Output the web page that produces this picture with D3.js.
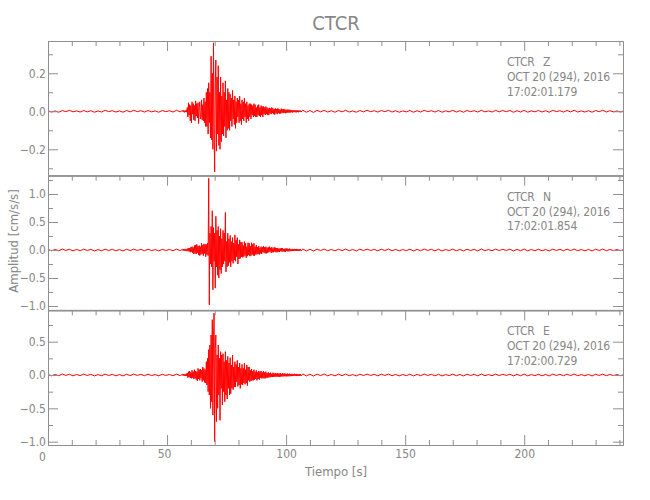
<!DOCTYPE html>
<html><head><meta charset="utf-8">
<script src="https://cdn.jsdelivr.net/npm/d3@7"></script>
<style>
body{margin:0;background:#fff;}
text{font-family:"Liberation Sans Narrow","DejaVu Sans Condensed",sans-serif;fill:#868686;}
</style></head><body>
<svg id="c" width="650" height="500"></svg>
<script>
// ---------- data ----------
const station = "CTCR";
const components = ["Z", "N", "E"];
const dateLabel = "OCT 20 (294), 2016";
const startTimes = ["17:02:01.179", "17:02:01.854", "17:02:00.729"];
const timeEnd = 241.5;                 // seconds shown
const xMajorTicks = [0, 50, 100, 150, 200];
const xMinorTicks = [10,20,30,40,60,70,80,90,110,120,130,140,160,170,180,190,210,220,230,240];

const yDomainZ = [-0.339, 0.370], yMajorZ = [-0.2, 0, 0.2], yMinorZ = [-0.3, -0.1, 0.1, 0.3];
const yDomainN = [-1.077, 1.327], yMajorN = [-1, -0.5, 0, 0.5, 1], yMinorN = [-0.75, -0.25, 0.25, 0.75, 1.25];
const yDomainE = [-1.05, 0.97], yMajorE = [-1, -0.5, 0, 0.5], yMinorE = [-0.75, -0.25, 0.25, 0.75];

// trace segments: pre-event (t0=0, dt=1.5 s), event (t0=56.5, dt=0.25 s), post-event (t0=107, dt=1.5 s)
const preStart = 0, preStep = 1.5, eventStart = 56.5, eventStep = 0.25, postStart = 107, postStep = 1.5;

const zPre = [0.003,-0.004,0.002,-0.005,0.004,-0.002,0.005,-0.003,0.002,-0.004,
 0.004,-0.003,0.003,-0.005,0.002,-0.004,0.005,-0.002,0.003,-0.004,
 0.002,-0.005,0.004,-0.003,0.005,-0.002,0.003,-0.004,0.004,-0.003,
 0.002,-0.005,0.004,-0.002,0.003,-0.004,0.005,-0.003];
const zEvent = [
 0.004,-0.003,0.005,-0.006,0.003,-0.004,0.006,-0.005,0.02,-0.03,0.045,-0.02,0.035,-0.05,0.03,-0.06,0.05,-0.015,0.04,-0.045,
 0.03,-0.05,0.055,-0.025,0.04,-0.035,0.045,-0.065,0.02,0.05,-0.04,-0.03,0.06,-0.045,0.035,-0.05,0.07,-0.06,0.05,-0.08,
 0.1,-0.08,0.12,-0.12,0.15,-0.06,0.1,-0.14,0.29,-0.15,0.2,-0.2,0.36,-0.1,-0.32,0.15,0.27,-0.21,0.18,-0.12,
 0.24,-0.18,0.1,-0.2,0.18,-0.16,0.08,-0.12,0.15,-0.13,0.1,-0.08,0.16,-0.14,0.06,-0.1,0.12,-0.09,0.1,-0.1,
 0.09,-0.05,0.07,-0.08,0.11,-0.04,0.06,-0.07,0.08,-0.09,0.05,-0.06,0.07,-0.03,0.06,-0.06,0.08,-0.05,0.04,-0.07,
 0.06,-0.04,0.05,-0.05,0.07,-0.03,0.04,-0.06,0.05,-0.04,0.03,-0.05,0.04,-0.03,0.04,-0.04,0.035,-0.02,0.03,-0.03,
 0.04,-0.025,0.035,-0.03,0.02,-0.03,0.03,-0.02,0.035,-0.025,0.02,-0.03,0.03,-0.02,0.025,-0.03,0.025,-0.015,0.02,-0.02,
 0.025,-0.015,0.02,-0.02,0.015,-0.02,0.018,-0.012,0.015,-0.015,0.02,-0.01,0.015,-0.015,0.012,-0.018,0.015,-0.01,0.012,-0.015,
 0.015,-0.01,0.012,-0.012,0.008,-0.012,0.014,-0.008,0.01,-0.01,0.012,-0.008,0.01,-0.01,0.008,-0.009,0.009,-0.006,0.008,-0.008,
 0.008,-0.006,0.007,-0.005,0.006,-0.007,0.005,-0.004,0.006,-0.005,0.004,-0.006,0.005,-0.004,0.005,-0.005,0.004,-0.003,0.004,-0.004];
const zPost = [0.006,-0.005,0.004,-0.006,0.005,-0.003,0.005,-0.004,0.003,-0.005,
 0.004,-0.003,0.005,-0.004,0.002,-0.005,0.004,-0.003,0.005,-0.002,
 0.003,-0.004,0.004,-0.002,0.005,-0.004,0.003,-0.005,0.002,-0.003,
 0.004,-0.005,0.003,-0.004,0.005,-0.002,0.003,-0.004,0.004,-0.005,
 0.002,-0.003,0.005,-0.004,0.003,-0.005,0.004,-0.002,0.003,-0.004,
 0.005,-0.003,0.002,-0.004,0.005,-0.003,0.004,-0.002,0.004,-0.005,
 0.003,-0.004,0.005,-0.005,0.002,-0.003,0.004,-0.004,0.003,-0.005,
 0.005,-0.002,0.003,-0.004,0.004,-0.003,0.005,-0.004,0.002,-0.004,
 0.003,-0.005,0.004,-0.002,0.005,-0.004,0.003,-0.003,0.002,-0.004,
 0.004];

const nPre = [0.01,-0.014,0.008,-0.012,0.016,-0.007,0.012,-0.015,0.009,-0.011,
 0.014,-0.008,0.011,-0.016,0.007,-0.013,0.015,-0.009,0.012,-0.014,
 0.008,-0.016,0.013,-0.01,0.015,-0.007,0.011,-0.013,0.014,-0.009,
 0.007,-0.015,0.012,-0.008,0.01,-0.014,0.016,-0.011];
const nEvent = [
 0.012,-0.01,0.015,-0.012,0.02,-0.015,0.01,-0.02,0.025,-0.02,0.03,-0.025,0.035,-0.04,0.05,-0.03,0.06,-0.05,0.045,-0.07,
 0.08,-0.06,0.09,-0.07,0.1,-0.05,0.07,-0.09,0.08,-0.1,0.06,-0.08,0.12,-0.07,0.09,-0.1,0.11,-0.06,0.1,-0.12,
 0.1,-0.08,0.12,-0.1,1.28,-0.98,0.3,-0.25,0.42,-0.3,0.7,-0.71,0.4,-0.2,0.3,-0.68,0.6,-0.3,0.35,-0.45,
 0.42,-0.5,0.25,-0.35,0.38,-0.42,0.2,-0.3,0.35,-0.25,0.3,-0.2,0.67,-0.39,0.15,-0.3,0.3,-0.28,0.2,-0.22,
 0.26,-0.3,0.15,-0.2,0.22,-0.24,0.12,-0.18,0.27,-0.2,0.18,-0.12,0.22,-0.25,0.1,-0.16,0.18,-0.15,0.14,-0.12,
 0.14,-0.13,0.08,-0.12,0.15,-0.1,0.12,-0.14,0.06,-0.11,0.13,-0.09,0.12,-0.11,0.07,-0.1,0.13,-0.08,0.1,-0.1,
 0.12,-0.1,0.06,-0.08,0.09,-0.08,0.05,-0.07,0.07,-0.08,0.04,-0.06,0.06,-0.07,0.05,-0.04,0.07,-0.05,0.05,-0.06,
 0.06,-0.06,0.04,-0.05,0.05,-0.04,0.06,-0.03,0.04,-0.05,0.05,-0.04,0.03,-0.04,0.05,-0.03,0.04,-0.04,0.035,-0.04,
 0.035,-0.03,0.025,-0.035,0.03,-0.02,0.035,-0.03,0.03,-0.025,0.02,-0.03,0.025,-0.03,0.03,-0.02,0.025,-0.025,0.02,-0.025,
 0.025,-0.02,0.015,-0.02,0.02,-0.018,0.014,-0.02,0.02,-0.015,0.018,-0.016,0.02,-0.014,0.015,-0.018,0.016,-0.015,0.014,-0.016];
const nPost = [0.018,-0.016,0.012,-0.017,0.015,-0.01,0.016,-0.013,0.009,-0.015,
 0.013,-0.011,0.016,-0.012,0.008,-0.016,0.014,-0.009,0.015,-0.008,
 0.011,-0.014,0.013,-0.008,0.016,-0.012,0.009,-0.015,0.008,-0.011,
 0.014,-0.016,0.01,-0.013,0.016,-0.008,0.011,-0.014,0.013,-0.016,
 0.008,-0.01,0.015,-0.013,0.009,-0.016,0.013,-0.008,0.01,-0.014,
 0.016,-0.011,0.008,-0.013,0.015,-0.009,0.012,-0.008,0.014,-0.016,
 0.01,-0.012,0.016,-0.015,0.008,-0.011,0.013,-0.014,0.009,-0.016,
 0.015,-0.008,0.011,-0.013,0.014,-0.01,0.016,-0.012,0.008,-0.014,
 0.01,-0.016,0.013,-0.008,0.015,-0.012,0.009,-0.01,0.008,-0.013,
 0.012];

const ePre = [0.009,-0.012,0.007,-0.01,0.014,-0.006,0.011,-0.013,0.008,-0.009,
 0.012,-0.007,0.01,-0.014,0.006,-0.011,0.013,-0.008,0.01,-0.012,
 0.007,-0.014,0.011,-0.009,0.013,-0.006,0.01,-0.011,0.012,-0.008,
 0.006,-0.013,0.011,-0.007,0.009,-0.012,0.014,-0.01];
const eEvent = [
 0.012,-0.01,0.015,-0.012,0.01,-0.015,0.018,-0.014,0.03,-0.04,0.05,-0.03,0.06,-0.045,0.04,-0.05,0.07,-0.04,0.05,-0.06,
 0.08,-0.05,0.06,-0.07,0.05,-0.09,0.1,-0.06,0.08,-0.08,0.09,-0.05,0.07,-0.1,0.12,-0.08,0.1,-0.11,0.08,-0.12,
 0.2,-0.15,0.25,-0.25,0.38,-0.3,0.45,-0.5,0.6,-0.4,0.83,-0.6,0.5,0.93,-1.0,0.4,0.6,-0.7,0.3,-0.5,
 0.45,-0.3,0.25,-0.68,0.35,-0.2,0.3,-0.45,0.32,-0.25,0.2,-0.4,0.35,-0.3,0.22,-0.36,0.28,-0.2,0.18,-0.3,
 0.26,-0.28,0.15,-0.2,0.3,-0.22,0.12,-0.18,0.2,-0.18,0.16,-0.1,0.22,-0.17,0.12,-0.15,0.18,-0.2,0.1,-0.14,
 0.16,-0.15,0.1,-0.12,0.18,-0.14,0.08,-0.12,0.15,-0.16,0.12,-0.08,0.12,-0.1,0.07,-0.09,0.09,-0.08,0.06,-0.08,
 0.08,-0.07,0.05,-0.06,0.07,-0.08,0.04,-0.06,0.06,-0.07,0.05,-0.04,0.06,-0.05,0.04,-0.05,0.06,-0.05,0.04,-0.05,
 0.05,-0.04,0.03,-0.04,0.04,-0.035,0.025,-0.035,0.035,-0.03,0.02,-0.03,0.035,-0.03,0.025,-0.025,0.03,-0.028,0.02,-0.025,
 0.03,-0.025,0.02,-0.028,0.028,-0.025,0.018,-0.022,0.025,-0.022,0.02,-0.018,0.025,-0.02,0.015,-0.02,0.022,-0.02,0.016,-0.018,
 0.02,-0.018,0.014,-0.016,0.018,-0.016,0.012,-0.015,0.018,-0.015,0.013,-0.016,0.016,-0.014,0.012,-0.015,0.015,-0.014,0.012,-0.014];
const ePost = [0.016,-0.014,0.011,-0.015,0.013,-0.009,0.014,-0.012,0.008,-0.013,
 0.012,-0.01,0.014,-0.011,0.007,-0.014,0.012,-0.008,0.013,-0.007,
 0.01,-0.012,0.011,-0.007,0.014,-0.011,0.008,-0.013,0.007,-0.01,
 0.012,-0.014,0.009,-0.011,0.014,-0.007,0.01,-0.012,0.011,-0.014,
 0.007,-0.009,0.013,-0.011,0.008,-0.014,0.011,-0.007,0.009,-0.012,
 0.014,-0.01,0.007,-0.011,0.013,-0.008,0.011,-0.007,0.012,-0.014,
 0.009,-0.011,0.014,-0.013,0.007,-0.01,0.011,-0.012,0.008,-0.014,
 0.013,-0.007,0.01,-0.011,0.012,-0.009,0.014,-0.011,0.007,-0.012,
 0.009,-0.014,0.011,-0.007,0.013,-0.011,0.008,-0.009,0.007,-0.011,
 0.01];

// ---------- layout ----------
const L = 48, R = 623, T = 41, B = 445;
const ph = (B - T) / 3;
const axisColor = "#8f8f8f";
const textColor = "#868686";

const svg = d3.select("#c");
const x = d3.scaleLinear().domain([0, timeEnd]).range([L, R]);

const panels = [
  {comp: components[0], start: startTimes[0], dom: yDomainZ, major: yMajorZ, minor: yMinorZ, pre: zPre, ev: zEvent, post: zPost},
  {comp: components[1], start: startTimes[1], dom: yDomainN, major: yMajorN, minor: yMinorN, pre: nPre, ev: nEvent, post: nPost},
  {comp: components[2], start: startTimes[2], dom: yDomainE, major: yMajorE, minor: yMinorE, pre: ePre, ev: eEvent, post: ePost}
];

function series(p) {
  const pts = [];
  p.pre.forEach((v, i) => pts.push([preStart + i * preStep, v]));
  p.ev.forEach((v, i) => pts.push([eventStart + i * eventStep, v]));
  p.post.forEach((v, i) => pts.push([postStart + i * postStep, v]));
  return pts;
}

const fmtY = d3.format(".1f");

panels.forEach((p, i) => {
  const top = T + i * ph, bot = top + ph;
  const y = d3.scaleLinear().domain(p.dom).range([bot, top]);
  const g = svg.append("g");

  const cid = "clip" + i;
  svg.append("clipPath").attr("id", cid).append("rect")
    .attr("x", L).attr("y", top).attr("width", R - L).attr("height", ph);

  const line = d3.line().x(d => x(d[0])).y(d => y(d[1]));
  g.append("path").datum(series(p)).attr("clip-path", `url(#${cid})`)
    .attr("d", line).attr("fill", "none").attr("stroke", "#ff0000").attr("stroke-width", 1);

  const la = g.append("g").attr("transform", `translate(${L},0)`)
    .call(d3.axisLeft(y).tickValues(p.major).tickSize(-10).tickSizeOuter(0).tickPadding(2).tickFormat(fmtY));
  la.append("g").call(d3.axisLeft(y).tickValues(p.minor).tickSize(-5).tickSizeOuter(0).tickFormat(""));
  const ra = g.append("g").attr("transform", `translate(${R},0)`)
    .call(d3.axisRight(y).tickValues(p.major).tickSize(-10).tickSizeOuter(0).tickFormat(""));
  ra.append("g").call(d3.axisRight(y).tickValues(p.minor).tickSize(-5).tickSizeOuter(0).tickFormat(""));
  const ta = g.append("g").attr("transform", `translate(0,${top})`)
    .call(d3.axisTop(x).tickValues(xMajorTicks).tickSize(-10).tickSizeOuter(0).tickFormat(""));
  ta.append("g").call(d3.axisTop(x).tickValues(xMinorTicks).tickSize(-5).tickSizeOuter(0).tickFormat(""));
  if (i === 2) {
    const ba = g.append("g").attr("transform", `translate(0,${bot})`)
      .call(d3.axisBottom(x).tickValues(xMajorTicks).tickSize(-10).tickSizeOuter(0).tickPadding(4).tickFormat(d3.format("d")));
    ba.append("g").call(d3.axisBottom(x).tickValues(xMinorTicks).tickSize(-5).tickSizeOuter(0).tickFormat(""));
    ba.selectAll(".tick text").attr("dx", d => d === 0 ? -6 : (d === 50 ? -3 : 0))
      .attr("y", d => d === 0 ? 7 : 4);
  } else {
    g.append("line").attr("x1", L).attr("x2", R).attr("y1", bot).attr("y2", bot);
  }

  const ax = 507;
  const ann = g.append("g").attr("font-size", 12).attr("letter-spacing", "-0.2px");
  ann.append("text").attr("x", ax).attr("y", top + 25).text(station);
  ann.append("text").attr("x", ax + 36).attr("y", top + 25).text(p.comp);
  ann.append("text").attr("x", ax).attr("y", top + 40).text(dateLabel);
  ann.append("text").attr("x", ax).attr("y", top + 54.5).text(p.start);
});

svg.selectAll(".domain, .tick line, line").attr("stroke", axisColor);
svg.selectAll(".tick text").attr("font-size", 12).attr("fill", textColor)
  .attr("font-family", '"Liberation Sans Narrow","DejaVu Sans Condensed",sans-serif');

svg.append("text").attr("x", 336).attr("y", 30).attr("text-anchor", "middle").attr("font-size", 20).text(station);
svg.append("text").attr("x", 336).attr("y", 476).attr("text-anchor", "middle").attr("font-size", 13).text("Tiempo [s]");
svg.append("text").attr("transform", "translate(18,241) rotate(-90)").attr("text-anchor", "middle")
  .attr("font-size", 13).text("Amplitud [cm/s/s]");
</script>
</body></html>
